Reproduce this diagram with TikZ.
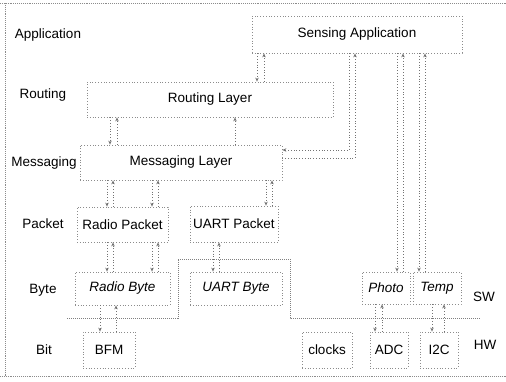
\documentclass[tikz,border=0pt]{standalone}
\usepackage{fontspec}
\setmainfont{Liberation Sans}
\usetikzlibrary{arrows.meta}
\begin{document}
\begin{tikzpicture}[x=1pt,y=-1pt,
  every node/.style={font=\fontsize{13.5}{15}\selectfont, inner sep=0pt},
  comp/.style={draw=black!45, dotted, line width=0.8pt},
  itl/.style={font=\fontsize{13.5}{15}\selectfont\itshape},
  conn/.style={draw=black!55, dotted, line width=0.8pt, -{Stealth[length=4pt,width=3.5pt]}},
  hwline/.style={draw=black!50, densely dotted, line width=1pt},
  framel/.style={draw=black!45, densely dotted, line width=0.9pt}]
\useasboundingbox (0,0) rectangle (506,381);
\draw[framel] (0,3) -- (506,3) (0,376) -- (506,376) (5,3) -- (5,376);

% row labels
\node (lapp) at (48,35) {Application};
\node (lrout) at (43,95) {Routing};
\node (lmsg) at (44,163) {Messaging};
\node (lpkt) at (43,224) {Packet};
\node (lbyte) at (43,290) {Byte};
\node (lbit) at (44,350) {Bit};
\node (sw) at (484,297) {SW};
\node (hw) at (485,345) {HW};

% components
\node[comp, minimum width=210, minimum height=37] (sa) at (357,34.5) {Sensing Application};
\node[comp, minimum width=246, minimum height=35] (rl) at (210,99.5) {Routing Layer};
\node[comp, minimum width=202, minimum height=35] (ml) at (181,162.5) {Messaging Layer};
\node[comp, minimum width=91, minimum height=35] (rp) at (122.5,224.5) {Radio Packet};
\node[comp, minimum width=88, minimum height=36] (up) at (234,224) {UART Packet};
\node[comp, itl, minimum width=95, minimum height=33] (rb) at (122.5,288.5) {Radio Byte};
\node[comp, itl, minimum width=92, minimum height=33] (ub) at (236,288.5) {UART Byte};
\node[comp, itl, minimum width=48, minimum height=32] (ph) at (386,288) {Photo};
\node[comp, itl, minimum width=48, minimum height=32] (tp) at (437,288) {Temp};
\node[comp, minimum width=52, minimum height=36] (bfm) at (109,350) {BFM};
\node[comp, minimum width=50, minimum height=36] (clk) at (327,350) {clocks};
\node[comp, minimum width=38, minimum height=36] (adc) at (389,350) {ADC};
\node[comp, minimum width=38, minimum height=36] (i2c) at (439,350) {I2C};

% SW / HW boundary
\draw[hwline] (67,318) -- (178,318) -- (178,259) -- (290,259) -- (290,318) -- (480,318);

% connectors
\draw[conn] (257,0 |- sa.south) -- (257,0 |- rl.north);
\draw[conn] (264,0 |- rl.north) -- (264,0 |- sa.south);

\draw[conn] (110,0 |- rl.south) -- (110,0 |- ml.north);
\draw[conn] (117,0 |- ml.north) -- (117,0 |- rl.south);
\draw[conn] (235,0 |- ml.north) -- (235,0 |- rl.south);

\draw[conn] (349,0 |- sa.south) |- (ml.east |- 0,150);
\draw[conn] (ml.east |- 0,158) -| (355,0 |- sa.south);

\draw[conn] (107,0 |- ml.south) -- (107,0 |- rp.north);
\draw[conn] (113,0 |- rp.north) -- (113,0 |- ml.south);
\draw[conn] (152,0 |- ml.south) -- (152,0 |- rp.north);
\draw[conn] (158,0 |- rp.north) -- (158,0 |- ml.south);

\draw[conn] (266,0 |- ml.south) -- (266,0 |- up.north);
\draw[conn] (272,0 |- up.north) -- (272,0 |- ml.south);

\draw[conn] (107,0 |- rp.south) -- (107,0 |- rb.north);
\draw[conn] (113,0 |- rb.north) -- (113,0 |- rp.south);
\draw[conn] (152,0 |- rp.south) -- (152,0 |- rb.north);
\draw[conn] (158,0 |- rb.north) -- (158,0 |- rp.south);

\draw[conn] (213,0 |- up.south) -- (213,0 |- ub.north);
\draw[conn] (219,0 |- ub.north) -- (219,0 |- up.south);

\draw[conn] (100,0 |- rb.south) -- (100,0 |- bfm.north);
\draw[conn] (116,0 |- bfm.north) -- (116,0 |- rb.south);

\draw[conn] (397,0 |- sa.south) -- (397,0 |- ph.north);
\draw[conn] (403,0 |- ph.north) -- (403,0 |- sa.south);
\draw[conn] (419,0 |- sa.south) -- (419,0 |- tp.north);
\draw[conn] (425,0 |- tp.north) -- (425,0 |- sa.south);

\draw[conn] (375,0 |- ph.south) -- (375,0 |- adc.north);
\draw[conn] (382,0 |- adc.north) -- (382,0 |- ph.south);
\draw[conn] (432,0 |- tp.south) -- (432,0 |- i2c.north);
\draw[conn] (444,0 |- i2c.north) -- (444,0 |- tp.south);
\end{tikzpicture}
\end{document}
